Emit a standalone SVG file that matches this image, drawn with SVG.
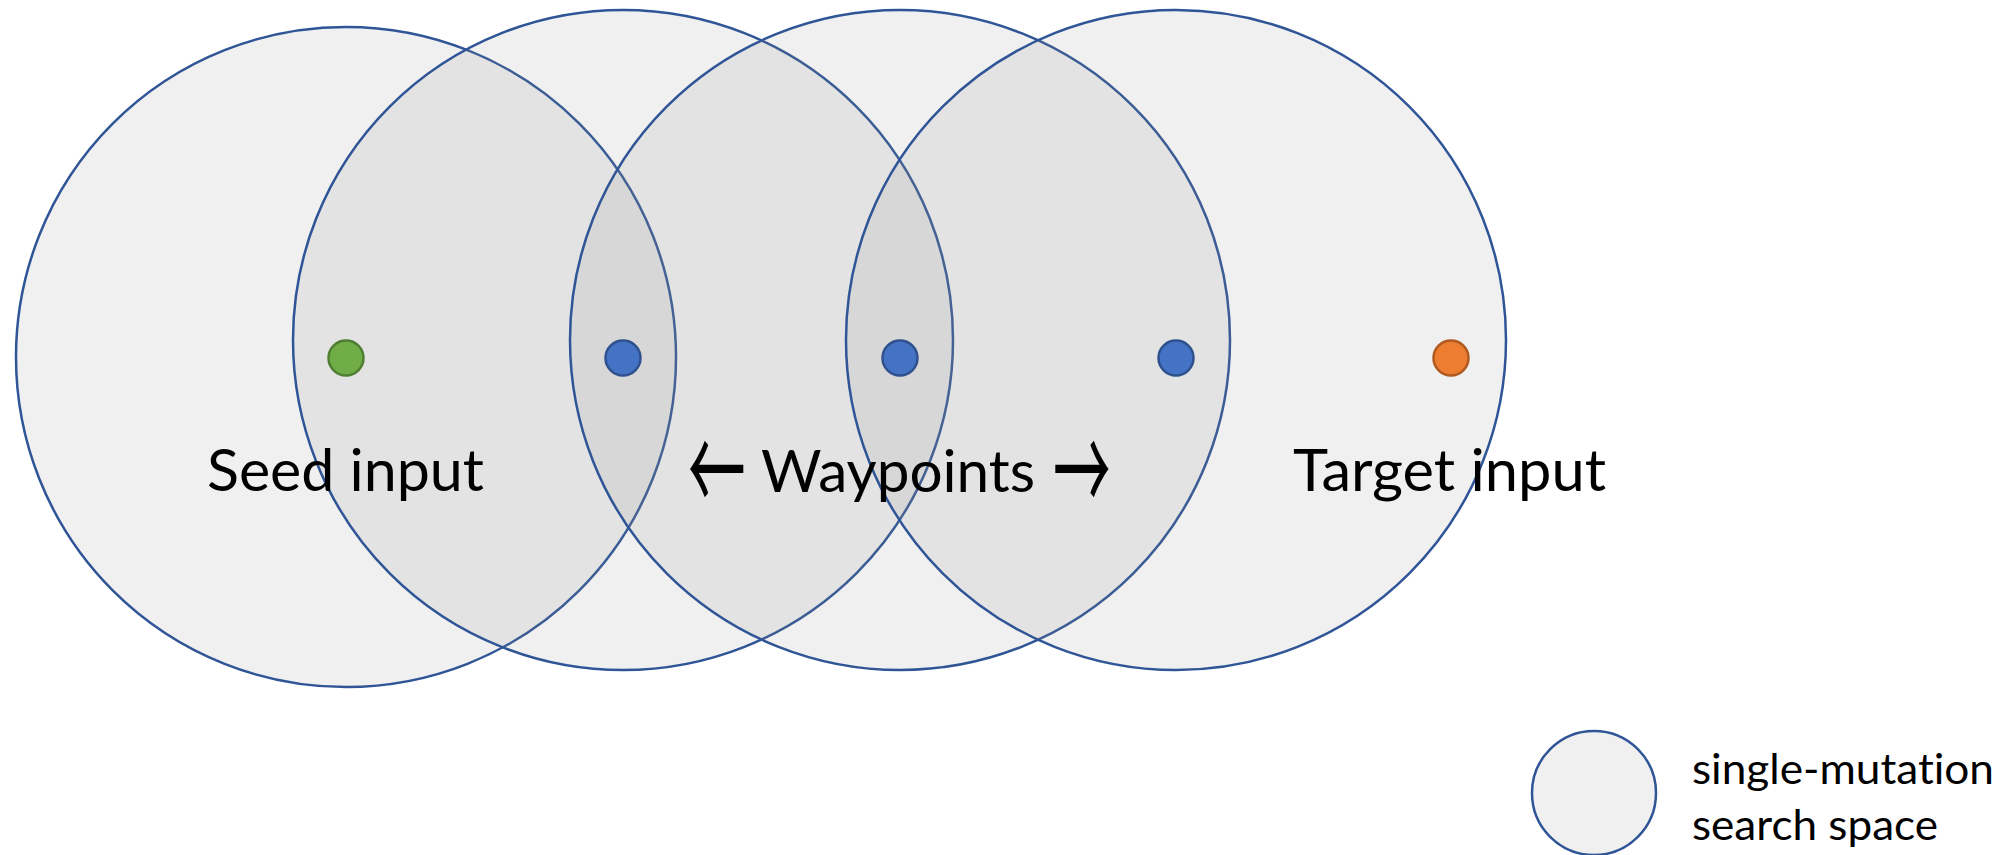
<svg xmlns="http://www.w3.org/2000/svg" width="2010" height="855" viewBox="0 0 2010 855">
  <style>
    .space { fill: #8F8F8F; fill-opacity: 0.134; stroke: #2F5597; stroke-width: 2.5; }
    .legend-space { fill: #F0F0F0; stroke: #2F5597; stroke-width: 2.5; }
    .seed { fill: #70AD47; stroke: #507E32; stroke-width: 2.5; }
    .waypoint { fill: #4472C4; stroke: #2F528F; stroke-width: 2.5; }
    .target { fill: #ED7D31; stroke: #AE5A21; stroke-width: 2.5; }
    text { font-variant-ligatures: none; font-feature-settings: "liga" 0, "clig" 0; }
    .label { font-family: Lato, "Open Sans", "Liberation Sans", sans-serif; font-size: 58px; fill: #000000; }
    .arrow { font-family: "Noto Sans CJK JP", "DejaVu Sans", sans-serif; font-size: 120px; fill: #000000; }
    .legend-label { font-family: Lato, "Open Sans", "Liberation Sans", sans-serif; font-size: 43px; fill: #000000; }
  </style>

  <rect width="2010" height="855" fill="#FFFFFF"/>

  <!-- single-mutation search spaces around each input -->
  <g id="spaces">
    <circle id="space-seed" class="space" cx="346" cy="357" r="330"/>
    <circle id="space-wp1" class="space" cx="623" cy="340" r="330"/>
    <circle id="space-wp2" class="space" cx="900" cy="340" r="330"/>
    <circle id="space-wp3" class="space" cx="1176" cy="340" r="330"/>
  </g>

  <!-- inputs -->
  <g id="seed-input"><circle class="seed" cx="346" cy="358" r="17.5"/></g>
  <g id="waypoint-1"><circle class="waypoint" cx="623" cy="358" r="17.5"/></g>
  <g id="waypoint-2"><circle class="waypoint" cx="900" cy="358" r="17.5"/></g>
  <g id="waypoint-3"><circle class="waypoint" cx="1176" cy="358" r="17.5"/></g>
  <g id="target-input"><circle class="target" cx="1451" cy="358" r="17.5"/></g>

  <!-- labels -->
  <g id="labels">
    <text class="label" x="207" y="491" textLength="277" lengthAdjust="spacingAndGlyphs">Seed input</text>
    <g id="waypoints-label">
      <text class="arrow" transform="translate(688,515) scale(0.48,1)">←</text>
      <text class="label" x="761" y="492" textLength="274" lengthAdjust="spacingAndGlyphs">Waypoints</text>
      <text class="arrow" transform="translate(1053,515) scale(0.48,1)">→</text>
    </g>
    <text class="label" x="1293" y="491" textLength="313" lengthAdjust="spacingAndGlyphs">Target input</text>
  </g>

  <!-- legend -->
  <g id="legend">
    <circle class="legend-space" cx="1594" cy="793" r="62"/>
    <text class="legend-label" x="1692" y="784" textLength="302" lengthAdjust="spacingAndGlyphs">single-mutation</text>
    <text class="legend-label" x="1692" y="840" textLength="246" lengthAdjust="spacingAndGlyphs">search space</text>
  </g>
</svg>
